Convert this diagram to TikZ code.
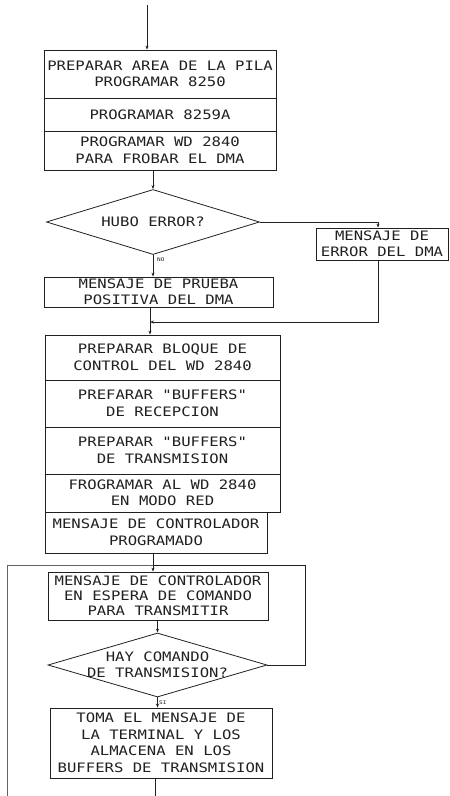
\documentclass[tikz,border=0pt]{standalone}
\usepackage{fontspec}
\newfontfamily\plotfont[FakeStretch=1.2]{DejaVu Sans Mono}
\usetikzlibrary{shapes.geometric,arrows.meta}
\definecolor{ink}{HTML}{202020}
\begin{document}
\begin{tikzpicture}[x=1pt,y=1pt,
  box/.style={draw=ink, line width=0.8pt, inner sep=0pt, align=center, text=ink,
    font=\plotfont\fontsize{13}{16.5}\selectfont},
  dia/.style={draw=ink, diamond, line width=0.8pt, inner sep=0pt},
  lbl/.style={text=ink, align=center, font=\plotfont\fontsize{13}{16.5}\selectfont},
  tiny/.style={text=ink, font=\plotfont\fontsize{5}{6}\selectfont, inner sep=1pt},
  arr/.style={draw=ink, -{Stealth[length=4pt,width=3pt]}, line width=0.7pt},
  ln/.style={draw=ink, line width=0.7pt}]
\useasboundingbox (0,0) rectangle (450,-796);

% first group
\node[box, minimum width=232pt, minimum height=48pt] (b1) at (160,-74) {PREPARAR AREA DE LA PILA\\PROGRAMAR 8250};
\node[box, minimum width=232pt, minimum height=33pt] (b2) at (160,-114.5) {PROGRAMAR 8259A};
\node[box, minimum width=232pt, minimum height=39pt] (b3) at (160,-150.5) {PROGRAMAR WD 2840\\PARA FROBAR EL DMA};
\coordinate (top) at (147,-5);

% first decision
\node[dia, minimum width=213pt, minimum height=65pt] (d1) at (153,-222) {};
\node[lbl] (d1t) at (d1.center) {HUBO ERROR?};
\node[box, minimum width=132pt, minimum height=32pt] (err) at (382,-244) {MENSAJE DE\\ERROR DEL DMA};
\node[box, minimum width=229pt, minimum height=30pt] (ok) at (158.5,-292) {MENSAJE DE PRUEBA\\POSITIVA DEL DMA};
\node[tiny, anchor=south west] (no) at (156,-263) {NO};
\coordinate (m) at (150,-322);

% second group
\node[box, minimum width=235pt, minimum height=45pt] (c1) at (162.5,-357.5) {PREPARAR BLOQUE DE\\CONTROL DEL WD 2840};
\node[box, minimum width=235pt, minimum height=47pt] (c2) at (162.5,-403.5) {PREFARAR "BUFFERS"\\DE RECEPCION};
\node[box, minimum width=235pt, minimum height=47pt] (c3) at (162.5,-450.5) {PREPARAR "BUFFERS"\\DE TRANSMISION};
\node[box, minimum width=235pt, minimum height=38pt] (c4) at (162.5,-493) {FROGRAMAR AL WD 2840\\EN MODO RED};
\node[box, minimum width=222pt, minimum height=41pt] (c5) at (156,-532.5) {MENSAJE DE CONTROLADOR\\PROGRAMADO};

% waiting loop
\coordinate (j) at (153,-565);
\node[box, minimum width=220pt, minimum height=48pt, font=\plotfont\fontsize{13}{15}\selectfont] (w) at (158,-596) {MENSAJE DE CONTROLADOR\\EN ESPERA DE COMANDO\\PARA TRANSMITIR};
\node[dia, minimum width=219pt, minimum height=64pt] (d2) at (157.5,-665) {};
\node[lbl] (d2t) at (d2.center) {HAY COMANDO\\DE TRANSMISION?};
\node[tiny, anchor=south west] (si) at (158,-706) {SI};
\node[box, minimum width=222pt, minimum height=70pt, font=\plotfont\fontsize{13}{16.5}\selectfont] (t) at (161,-743) {TOMA EL MENSAJE DE\\LA TERMINAL Y LOS\\ALMACENA EN LOS\\BUFFERS DE TRANSMISION};
\coordinate (bot) at (155,-796);
\coordinate (rt) at (305,-565);
\coordinate (lf) at (7,-565);
\coordinate (lb) at (7,-796);

% connectors
\draw[arr] (top) -- (top |- b1.north);
\draw[arr] (d1.north |- b3.south) -- (d1.north);
\draw[arr] (d1.east) -| ([xshift=-4pt]err.north);
\draw[arr] (d1.south) -- (d1.south |- ok.north);
\draw[ln] (m |- ok.south) -- (m);
\draw[arr] ([xshift=-4pt]err.south) |- (m);
\draw[arr] (m) -- (m |- c1.north);
\draw[ln] (j |- c5.south) -- (j);
\draw[arr] (j) -- (j |- w.north);
\draw[arr] (d2.north |- w.south) -- (d2.north);
\draw[ln] (d2.east) -| (rt) -- (j);
\draw[draw=ink!70, line width=0.5pt] (lb) -- (lf) -- (j);
\draw[arr] (d2.south) -- (d2.south |- t.north);
\draw[ln] (t.south -| bot) -- (bot);
\end{tikzpicture}
\end{document}
